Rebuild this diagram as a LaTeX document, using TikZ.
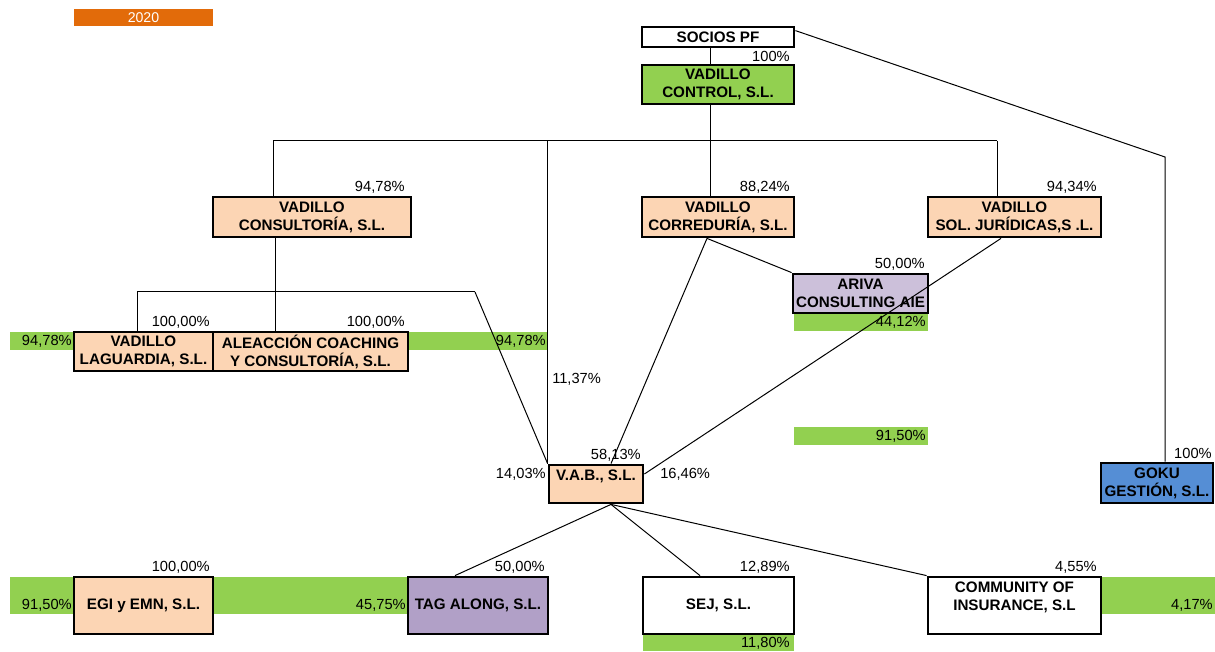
\documentclass[tikz,border=0pt]{standalone}
\usepackage{fontspec}
\setmainfont{Liberation Sans}
\definecolor{peach}{HTML}{FCD5B4}
\definecolor{xgreen}{HTML}{92D050}
\definecolor{lilac}{HTML}{CCC0DA}
\definecolor{purp}{HTML}{B1A0C7}
\definecolor{gokublue}{HTML}{558ED5}
\definecolor{orng}{HTML}{E26B0A}
\newcommand\rect[7]{\node[#1,minimum width={(#5-#3)*0.75pt},minimum height={(#6-#4)*0.75pt}] (#2) at ({(#3+#5)/2},{(#4+#6)/2}) {#7};}
\begin{document}
\begin{tikzpicture}[x=0.75pt,y=-0.75pt,
  box/.style={draw=black,line width=2.1pt,font=\bfseries\fontsize{11.4}{13.5}\selectfont,align=center,inner sep=0pt},
  bar/.style={fill=xgreen,inner sep=0pt},
  yearbox/.style={fill=orng,text=white,font=\fontsize{10.6}{12}\selectfont,inner sep=0pt},
  pct/.style={font=\fontsize{11}{12}\selectfont,inner sep=0pt},
  conn/.style={line width=0.75pt,draw=black}]
\useasboundingbox (0,0) rectangle (1215,652);
% year
\rect{yearbox}{yr}{74}{9}{213}{26}{2020}
% green bars
\rect{bar}{barLag}{10}{332}{74}{350}{}
\rect{bar}{barAle}{408}{332}{548}{350}{}
\rect{bar}{barAri}{794}{313}{928}{331}{}
\rect{bar}{barMid}{794}{427}{928}{445}{}
\rect{bar}{barEgi}{10}{577}{408}{614}{}
\rect{bar}{barCom}{1101}{577}{1215}{614}{}
\rect{bar}{barSej}{643}{634}{794}{651}{}
\node[pct,anchor=east] (gLag) at (72,341) {94,78\%};
\node[pct,anchor=east] (gAle) at (546,341) {94,78\%};
\node[pct,anchor=east] (gAri) at (926,322) {44,12\%};
\node[pct,anchor=east] (gMid) at (926,436) {91,50\%};
\node[pct,anchor=east] (gEgi) at (72,605) {91,50\%};
\node[pct,anchor=east] (gTag) at (406,605) {45,75\%};
\node[pct,anchor=east] (gCom) at (1213,605) {4,17\%};
\node[pct,anchor=east] (gSej) at (790,643) {11,80\%};
% boxes
\rect{box,fill=white}{socios}{642}{27}{794}{47}{SOCIOS PF}
\rect{box,fill=xgreen}{vc}{642}{65}{794}{104}{VADILLO\\CONTROL, S.L.}
\rect{box,fill=peach}{cons}{213}{197}{411}{237}{VADILLO\\CONSULTORÍA, S.L.}
\rect{box,fill=peach}{corr}{642}{197}{794}{237}{VADILLO\\CORREDURÍA, S.L.}
\rect{box,fill=peach}{sol}{928}{197}{1101}{237}{VADILLO\\SOL. JURÍDICAS,S .L.}
\rect{box,fill=lilac}{ariva}{793}{274}{928}{313}{ARIVA\\CONSULTING AIE}
\rect{box,fill=peach}{lag}{74}{332}{213}{371}{VADILLO\\LAGUARDIA, S.L.}
\rect{box,fill=peach}{ale}{213}{332}{408}{371}{ALEACCIÓN COACHING\\Y CONSULTORÍA, S.L.}
\rect{box,fill=peach}{vab}{549}{465}{643}{503}{V.A.B., S.L.\\\mbox{}}
\rect{box,fill=gokublue}{goku}{1101}{463}{1213}{503}{GOKU\\GESTIÓN, S.L.}
\rect{box,fill=peach}{egi}{74}{577}{213}{634}{EGI y EMN, S.L.}
\rect{box,fill=purp}{tag}{408}{577}{548}{634}{TAG ALONG, S.L.}
\rect{box,fill=white}{sej}{643}{577}{794}{634}{SEJ, S.L.}
\rect{box,fill=white}{com}{928}{577}{1101}{634}{COMMUNITY OF\\INSURANCE, S.L\\\mbox{}}
% percentages
\node[pct,anchor=east] (pVc) at (790,56) {100\%};
\node[pct,anchor=east] (pCons) at (405,187) {94,78\%};
\node[pct,anchor=east] (pCorr) at (790,187) {88,24\%};
\node[pct,anchor=east] (pSol) at (1097,187) {94,34\%};
\node[pct,anchor=east] (pAri) at (925,264) {50,00\%};
\node[pct,anchor=east] (pLag) at (210,322) {100,00\%};
\node[pct,anchor=east] (pAle) at (405,322) {100,00\%};
\node[pct,anchor=west] (pV1) at (552,379) {11,37\%};
\node[pct,anchor=east] (pV2) at (641,455) {58,13\%};
\node[pct,anchor=east] (pV3) at (546,474) {14,03\%};
\node[pct,anchor=west] (pV4) at (660,474) {16,46\%};
\node[pct,anchor=east] (pGoku) at (1212,453) {100\%};
\node[pct,anchor=east] (pEgi) at (210,567) {100,00\%};
\node[pct,anchor=east] (pTag) at (545,567) {50,00\%};
\node[pct,anchor=east] (pSej) at (790,567) {12,89\%};
\node[pct,anchor=east] (pCom) at (1097,567) {4,55\%};
% helper coordinates
\coordinate (c710) at (710,0);
\coordinate (c275) at (275,0);
\coordinate (c707) at (707,0);
\coordinate (c1001) at (1001,0);
\coordinate (c611) at (611,0);
\coordinate (c455) at (455,0);
\coordinate (c700) at (700,0);
\coordinate (g1) at (1165,157);
\coordinate (j0) at (710,141);
\coordinate (hL) at (273,141);
\coordinate (hR) at (997,141);
\coordinate (k1) at (137,292);
\coordinate (k2) at (475,292);
% connectors
\draw[conn] (socios.south -| c710) -- (vc.north -| c710);
\draw[conn] ([yshift=-3.75pt]socios.north east) -- (g1) -- (goku.north -| g1);
\draw[conn] (vc.south -| c710) -- (j0);
\draw[conn] (hL) -- (hR);
\draw[conn] (hL) -- (cons.north -| hL);
\draw[conn] (j0) -- (corr.north -| j0);
\draw[conn] (hR) -- (sol.north -| hR);
\draw[conn] (vab.north west |- hL) -- (vab.north west);
\draw[conn] (cons.south -| c275) -- (ale.north -| c275);
\draw[conn] (k1) -- (k2);
\draw[conn] (k1) -- (lag.north -| k1);
\draw[conn] (k2) -- (vab.north west);
\draw[conn] (corr.south -| c707) -- (vab.north -| c611);
\draw[conn] (corr.south -| c707) -- (ariva.north west);
\draw[conn] (sol.south -| c1001) -- ([yshift=7.5pt]vab.east);
\draw[conn] (vab.south -| c611) -- (tag.north -| c455);
\draw[conn] (vab.south -| c611) -- (sej.north -| c700);
\draw[conn] (vab.south -| c611) -- (com.north west);
\end{tikzpicture}
\end{document}
